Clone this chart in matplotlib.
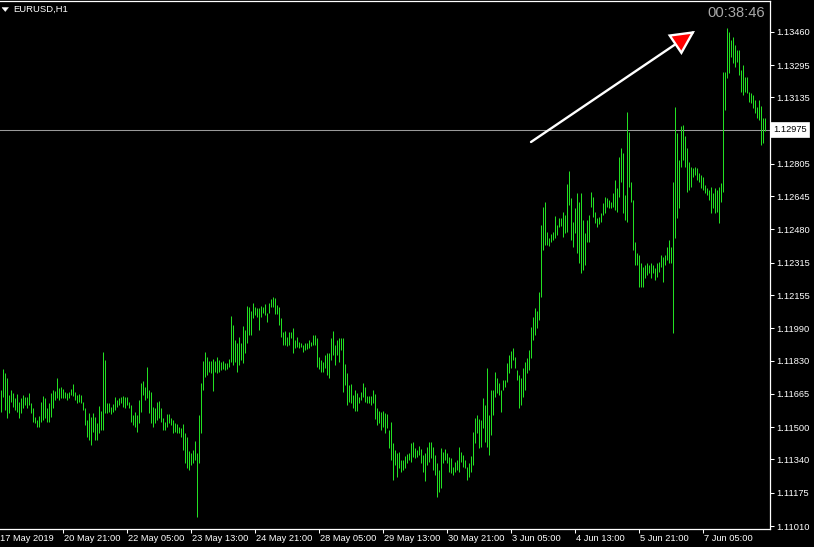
import matplotlib
matplotlib.use('Agg')
import matplotlib.pyplot as plt
from matplotlib.patches import FancyArrowPatch, Polygon
from matplotlib.transforms import blended_transform_factory

# ---------------- data (EURUSD H1 bar highs / lows) ----------------
highs = [
    1.11684, 1.11788, 1.11768, 1.11744, 1.11659, 1.11684, 1.11669, 1.11645, 1.11664, 1.11625,
    1.11645, 1.11659, 1.11649, 1.11649, 1.11669, 1.11620, 1.11595, 1.11550, 1.11535, 1.11555,
    1.11625, 1.11654, 1.11645, 1.11595, 1.11620, 1.11669, 1.11684, 1.11679, 1.11744, 1.11694,
    1.11699, 1.11689, 1.11674, 1.11669, 1.11674, 1.11689, 1.11714, 1.11674, 1.11659, 1.11664,
    1.11659, 1.11625, 1.11595, 1.11535, 1.11570, 1.11550, 1.11570, 1.11550, 1.11521, 1.11605,
    1.11580, 1.11872, 1.11833, 1.11620, 1.11620, 1.11600, 1.11615, 1.11649, 1.11635, 1.11645,
    1.11649, 1.11654, 1.11649, 1.11649, 1.11625, 1.11610, 1.11560, 1.11575, 1.11560, 1.11635,
    1.11719, 1.11729, 1.11699, 1.11798, 1.11684, 1.11674, 1.11600, 1.11595, 1.11625, 1.11630,
    1.11595, 1.11545, 1.11526, 1.11565, 1.11565, 1.11545, 1.11535, 1.11521, 1.11516, 1.11501,
    1.11496, 1.11516, 1.11471, 1.11451, 1.11382, 1.11372, 1.11387, 1.11431, 1.11372, 1.11560,
    1.11719, 1.11828, 1.11872, 1.11848, 1.11828, 1.11828, 1.11838, 1.11828, 1.11848, 1.11833,
    1.11823, 1.11828, 1.11818, 1.11818, 1.11838, 1.12051, 1.12006, 1.11932, 1.11917, 1.11947,
    1.11917, 1.12001, 1.11982, 1.12100, 1.12096, 1.12076, 1.12115, 1.12096, 1.12091, 1.12091,
    1.12100, 1.12096, 1.12110, 1.12066, 1.12115, 1.12135, 1.12145, 1.12140, 1.12105, 1.12096,
    1.12041, 1.11972, 1.11977, 1.11947, 1.11972, 1.11972, 1.11992, 1.11932, 1.11947, 1.11922,
    1.11917, 1.11907, 1.11917, 1.11917, 1.11932, 1.11922, 1.11957, 1.11957, 1.11942, 1.11848,
    1.11833, 1.11823, 1.11858, 1.11867, 1.11867, 1.11942, 1.11977, 1.11907, 1.11932, 1.11942,
    1.11942, 1.11942, 1.11813, 1.11768, 1.11709, 1.11714, 1.11659, 1.11684, 1.11669, 1.11649,
    1.11674, 1.11719, 1.11699, 1.11654, 1.11654, 1.11654, 1.11684, 1.11664, 1.11595, 1.11580,
    1.11575, 1.11580, 1.11570, 1.11565, 1.11486, 1.11526, 1.11421, 1.11387, 1.11372, 1.11377,
    1.11337, 1.11337, 1.11357, 1.11367, 1.11372, 1.11421, 1.11426, 1.11397, 1.11387, 1.11407,
    1.11392, 1.11362, 1.11372, 1.11402, 1.11426, 1.11426, 1.11402, 1.11362, 1.11322, 1.11288,
    1.11397, 1.11377, 1.11392, 1.11372, 1.11352, 1.11347, 1.11303, 1.11327, 1.11337, 1.11402,
    1.11377, 1.11362, 1.11337, 1.11303, 1.11322, 1.11357, 1.11476, 1.11545, 1.11560, 1.11540,
    1.11535, 1.11645, 1.11610, 1.11793, 1.11560, 1.11684, 1.11684, 1.11773, 1.11744, 1.11719,
    1.11684, 1.11734, 1.11734, 1.11818, 1.11858, 1.11877, 1.11892, 1.11848, 1.11783, 1.11758,
    1.11744, 1.11793, 1.11823, 1.11843, 1.11882, 1.11996, 1.12046, 1.12091, 1.12076, 1.12170,
    1.12502, 1.12591, 1.12616, 1.12467, 1.12437, 1.12457, 1.12467, 1.12547, 1.12502, 1.12537,
    1.12537, 1.12566, 1.12551, 1.12705, 1.12770, 1.12636, 1.12517, 1.12586, 1.12660, 1.12616,
    1.12660, 1.12527, 1.12462, 1.12527, 1.12551, 1.12665, 1.12641, 1.12566, 1.12537, 1.12542,
    1.12561, 1.12611, 1.12641, 1.12636, 1.12626, 1.12616, 1.12660, 1.12725, 1.12685, 1.12839,
    1.12884, 1.12859, 1.12651, 1.13062, 1.12963, 1.12715, 1.12626, 1.12418, 1.12363, 1.12353,
    1.12314, 1.12294, 1.12304, 1.12314, 1.12304, 1.12314, 1.12304, 1.12289, 1.12314, 1.12319,
    1.12353, 1.12343, 1.12353, 1.12393, 1.12428, 1.12393, 1.12715, 1.13087, 1.12958, 1.12824,
    1.12993, 1.12997, 1.12943, 1.12884, 1.12814, 1.12789, 1.12784, 1.12789, 1.12784, 1.12760,
    1.12750, 1.12740, 1.12700, 1.12685, 1.12675, 1.12690, 1.12660, 1.12685, 1.12675, 1.12690,
    1.12710, 1.13260, 1.13260, 1.13478, 1.13458, 1.13419, 1.13434, 1.13394, 1.13369, 1.13369,
    1.13270, 1.13295, 1.13235, 1.13235, 1.13161, 1.13156, 1.13146, 1.13121, 1.13087, 1.13121,
    1.13092, 1.13032, 1.13032,
]

lows = [
    1.11575, 1.11649, 1.11585, 1.11545, 1.11570, 1.11625, 1.11600, 1.11585, 1.11575, 1.11545,
    1.11570, 1.11595, 1.11610, 1.11595, 1.11610, 1.11570, 1.11526, 1.11521, 1.11501, 1.11501,
    1.11526, 1.11535, 1.11545, 1.11526, 1.11526, 1.11550, 1.11595, 1.11635, 1.11645, 1.11635,
    1.11645, 1.11645, 1.11645, 1.11635, 1.11645, 1.11659, 1.11654, 1.11635, 1.11620, 1.11625,
    1.11620, 1.11585, 1.11511, 1.11451, 1.11436, 1.11412, 1.11476, 1.11436, 1.11436, 1.11471,
    1.11486, 1.11486, 1.11570, 1.11570, 1.11575, 1.11565, 1.11575, 1.11585, 1.11600, 1.11610,
    1.11620, 1.11600, 1.11595, 1.11610, 1.11595, 1.11526, 1.11511, 1.11501, 1.11476, 1.11521,
    1.11575, 1.11659, 1.11635, 1.11645, 1.11570, 1.11521, 1.11501, 1.11521, 1.11535, 1.11545,
    1.11526, 1.11486, 1.11486, 1.11501, 1.11521, 1.11511, 1.11471, 1.11476, 1.11471, 1.11471,
    1.11451, 1.11387, 1.11322, 1.11298, 1.11288, 1.11312, 1.11322, 1.11337, 1.11055, 1.11322,
    1.11471, 1.11684, 1.11749, 1.11758, 1.11773, 1.11768, 1.11679, 1.11773, 1.11768, 1.11773,
    1.11783, 1.11788, 1.11783, 1.11788, 1.11798, 1.11823, 1.11808, 1.11823, 1.11773, 1.11808,
    1.11833, 1.11818, 1.11867, 1.11917, 1.11957, 1.11957, 1.12041, 1.12056, 1.12046, 1.11982,
    1.12046, 1.12066, 1.12056, 1.12021, 1.12066, 1.12096, 1.12096, 1.12061, 1.12061, 1.12006,
    1.11947, 1.11907, 1.11907, 1.11902, 1.11907, 1.11942, 1.11867, 1.11892, 1.11897, 1.11892,
    1.11897, 1.11872, 1.11882, 1.11887, 1.11892, 1.11902, 1.11907, 1.11907, 1.11798, 1.11788,
    1.11773, 1.11773, 1.11793, 1.11758, 1.11744, 1.11833, 1.11858, 1.11808, 1.11858, 1.11823,
    1.11882, 1.11674, 1.11709, 1.11610, 1.11625, 1.11620, 1.11595, 1.11580, 1.11580, 1.11620,
    1.11635, 1.11649, 1.11625, 1.11620, 1.11620, 1.11610, 1.11620, 1.11540, 1.11511, 1.11521,
    1.11486, 1.11501, 1.11471, 1.11496, 1.11397, 1.11337, 1.11238, 1.11312, 1.11253, 1.11298,
    1.11278, 1.11288, 1.11298, 1.11322, 1.11337, 1.11327, 1.11352, 1.11347, 1.11352, 1.11362,
    1.11322, 1.11278, 1.11233, 1.11312, 1.11327, 1.11347, 1.11288, 1.11263, 1.11154, 1.11179,
    1.11198, 1.11322, 1.11337, 1.11322, 1.11278, 1.11273, 1.11263, 1.11278, 1.11288, 1.11278,
    1.11327, 1.11303, 1.11298, 1.11238, 1.11253, 1.11278, 1.11312, 1.11421, 1.11471, 1.11397,
    1.11402, 1.11496, 1.11426, 1.11402, 1.11362, 1.11461, 1.11560, 1.11649, 1.11669, 1.11659,
    1.11575, 1.11684, 1.11699, 1.11724, 1.11768, 1.11793, 1.11833, 1.11793, 1.11734, 1.11595,
    1.11610, 1.11649, 1.11684, 1.11768, 1.11783, 1.11843, 1.11932, 1.11957, 1.11992, 1.12031,
    1.12145, 1.12378, 1.12403, 1.12403, 1.12398, 1.12418, 1.12428, 1.12437, 1.12452, 1.12492,
    1.12497, 1.12442, 1.12462, 1.12467, 1.12601, 1.12428, 1.12393, 1.12462, 1.12363, 1.12314,
    1.12264, 1.12279, 1.12304, 1.12418, 1.12418, 1.12591, 1.12542, 1.12512, 1.12492, 1.12507,
    1.12517, 1.12551, 1.12561, 1.12591, 1.12586, 1.12586, 1.12591, 1.12576, 1.12566, 1.12641,
    1.12715, 1.12561, 1.12527, 1.12517, 1.12690, 1.12616, 1.12378, 1.12304, 1.12304, 1.12195,
    1.12195, 1.12195, 1.12239, 1.12254, 1.12264, 1.12239, 1.12264, 1.12229, 1.12244, 1.12269,
    1.12294, 1.12219, 1.12304, 1.12328, 1.12314, 1.12314, 1.11967, 1.12437, 1.12537, 1.12586,
    1.12789, 1.12824, 1.12789, 1.12665, 1.12675, 1.12690, 1.12740, 1.12750, 1.12725, 1.12715,
    1.12685, 1.12675, 1.12660, 1.12651, 1.12626, 1.12561, 1.12586, 1.12561, 1.12566, 1.12512,
    1.12616, 1.12665, 1.13072, 1.13230, 1.13255, 1.13334, 1.13305, 1.13285, 1.13310, 1.13245,
    1.13161, 1.13146, 1.13161, 1.13156, 1.13111, 1.13107, 1.13082, 1.13057, 1.13032, 1.13022,
    1.12898, 1.12908, 1.12968,
]

bid_price = 1.12975
price_ticks = [1.13460, 1.13295, 1.13135, 1.12805, 1.12645, 1.12480, 1.12315,
               1.12155, 1.11990, 1.11830, 1.11665, 1.11500, 1.11340, 1.11175, 1.11010]
time_labels = ['17 May 2019', '20 May 21:00', '22 May 05:00', '23 May 13:00',
               '24 May 21:00', '28 May 05:00', '29 May 13:00', '30 May 21:00',
               '3 Jun 05:00', '4 Jun 13:00', '5 Jun 21:00', '7 Jun 05:00']
time_label_bars = [-1, 31, 63, 95, 127, 159, 191, 223, 255, 287, 319, 351]
symbol_title = 'EURUSD,H1'
clock_text = '00:38:46'

# ---------------- figure ----------------
W, H = 814, 547
FONT = 'Liberation Sans'
BAR_COLOR = '#22e022'
fig = plt.figure(figsize=(W / 100, H / 100), dpi=100, facecolor='black')
ax_left, ax_right, ax_top, ax_bottom = 0, 770, 1, 529
ax = fig.add_axes([ax_left / W, (H - ax_bottom) / H,
                   (ax_right - ax_left) / W, (ax_bottom - ax_top) / H])
ax.set_facecolor('black')

bars = list(range(len(highs)))
ax.vlines(bars, lows, highs, colors=BAR_COLOR, linewidth=0.72)

ax.set_xlim(-0.25, 384.75)
ax.set_ylim(1.109954, 1.136122)

# bid line
ax.axhline(bid_price, color='#9a9a9a', linewidth=0.75, zorder=0.5)

# spines
ax.spines['left'].set_visible(False)
for s in ['right', 'bottom', 'top']:
    ax.spines[s].set_color('white')
    ax.spines[s].set_linewidth(0.9)

# y axis on the right
ax.yaxis.tick_right()
ax.set_yticks(price_ticks)
ax.set_yticklabels([f'{p:.5f}' for p in price_ticks])
ax.tick_params(axis='y', colors='white', length=3, width=0.75, pad=1.5,
               labelsize=6.7, direction='out')
for lbl in ax.get_yticklabels():
    lbl.set_fontfamily(FONT)
    lbl.set_color('white')

# bid label
ax.text(1.0 + 3 / 770, bid_price, f'{bid_price:.5f}',
        transform=blended_transform_factory(ax.transAxes, ax.transData),
        ha='left', va='center', fontsize=6.7, family=FONT, color='black', clip_on=False,
        bbox=dict(boxstyle='square,pad=0.3', facecolor='white', edgecolor='white', linewidth=0.5),
        zorder=5)

# x axis ticks and labels
vis = [b for b in time_label_bars if b >= 0]
ax.set_xticks(vis)
ax.set_xticklabels([''] * len(vis))
ax.tick_params(axis='x', colors='white', length=3, width=0.75, direction='out')
trans = blended_transform_factory(ax.transData, ax.transAxes)
for b, lab in zip(time_label_bars, time_labels):
    ax.text(b + 0.6, -9.5 / 528, lab, transform=trans, ha='left', va='center',
            fontsize=6.7, family=FONT, color='white', clip_on=False)

# title with little triangle
fig.text(13 / W, 1 - 9.5 / H, symbol_title, ha='left', va='center', color='white',
         fontsize=6.8, family=FONT)
tri = Polygon([(2 / W, 1 - 7.5 / H), (8.5 / W, 1 - 7.5 / H), (5.25 / W, 1 - 11.5 / H)],
              closed=True, transform=fig.transFigure, facecolor='white', edgecolor='white', lw=0.3)
fig.add_artist(tri)

# clock
fig.text(765 / W, 1 - 13 / H, clock_text, ha='right', va='center', color='#a8a8a8',
         fontsize=10.6, family=FONT)

# arrow
arrow = FancyArrowPatch((531 / W, 1 - 142 / H), (695 / W, 1 - 31 / H),
                        transform=fig.transFigure,
                        arrowstyle='-|>,head_length=1.5,head_width=0.75', mutation_scale=10,
                        facecolor='#ff0000', edgecolor='white', linewidth=1.7,
                        shrinkA=0, shrinkB=0, joinstyle='miter')
fig.add_artist(arrow)

fig.savefig('out.png', dpi=100, facecolor='black')
